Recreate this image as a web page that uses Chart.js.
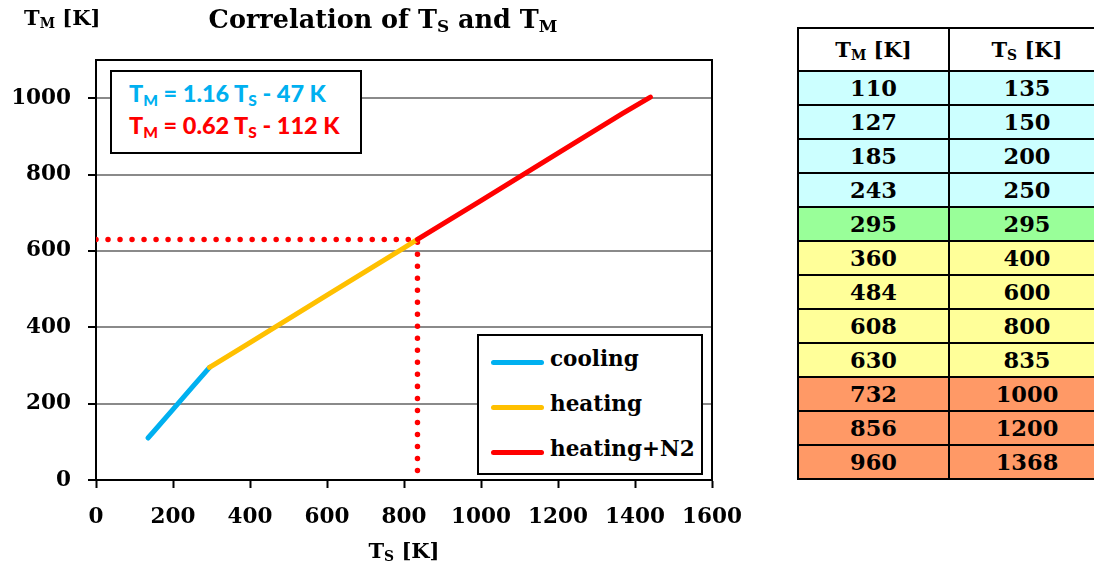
<!DOCTYPE html>
<html>
<head>
<meta charset="utf-8">
<script src="https://cdn.jsdelivr.net/npm/chart.js@4.4.1/dist/chart.umd.min.js"></script>
<style>
  html, body { margin:0; padding:0; width:1094px; height:572px; overflow:hidden; background:#fff; }
  body { position:relative; font-family:"DejaVu Serif", serif; font-weight:bold; color:#000; }
  #wrap { position:absolute; left:0; top:0; width:760px; height:572px; }
  .txt { position:absolute; white-space:nowrap; font-family:"DejaVu Serif", serif; font-weight:bold; }
  sub { font-size:66%; vertical-align:-0.25em; line-height:0; }
  #title { left:0; width:766px; top:4px; text-align:center; font-size:25.5px; }
  #ytitle { left:24px; top:5px; font-size:21px; }
  #xtitle { left:96px; width:616px; top:538px; text-align:center; font-size:21px; }
  #eq { position:absolute; left:110px; top:70px; width:248px; height:80px; border:2px solid #000; background:#fff;
        font-family:"Lato", "Open Sans", sans-serif; font-weight:900; font-size:23.5px; }
  #eq div { position:absolute; left:17px; white-space:nowrap; }
  #legend { position:absolute; left:477px; top:334px; width:222px; height:137px; border:2px solid #000; background:#fff; }
  .li { position:absolute; left:12px; height:24px; }
  .li span.ln { position:absolute; left:0; top:10px; width:53px; height:5px; border-radius:3px; }
  .li span.lt { position:absolute; left:59px; top:-4px; font-size:21.5px; white-space:nowrap; }
  #tbl { position:absolute; left:797px; top:27px; width:307px; border-collapse:collapse; table-layout:fixed; }
  #tbl td, #tbl th { border:2px solid #000; padding:0; text-align:center; font-size:22.5px; font-weight:bold; }
  #tbl th { height:41px; background:#fff; font-size:21px; }
  #tbl td { height:32px; line-height:30px; }
</style>
</head>
<body>
<div id="wrap"><canvas id="c" width="760" height="572"></canvas></div>
<div id="title" class="txt">Correlation of T<sub>S</sub> and T<sub>M</sub></div>
<div id="ytitle" class="txt">T<sub>M</sub> [K]</div>
<div id="xtitle" class="txt">T<sub>S</sub> [K]</div>
<div id="eq">
  <div style="top:7px;color:#00B0F0">T<sub>M</sub> = 1.16 T<sub>S</sub> - 47 K</div>
  <div style="top:39px;color:#FF0000">T<sub>M</sub> = 0.62 T<sub>S</sub> - 112 K</div>
</div>
<div id="legend"></div>
<table id="tbl"><colgroup><col style="width:151px"><col style="width:156px"></colgroup><tbody id="tb"></tbody></table>
<script>
// ---- data ----
const seriesNames = ["cooling", "heating", "heating+N2"];
const coolingTS = [135, 150, 200, 250, 295];
const coolingTM = [110, 127, 185, 243, 295];
const heatingTS = [295, 400, 600, 800, 835];
const heatingTM = [295, 360, 484, 608, 630];
const n2TS = [835, 1000, 1200, 1368, 1440];
const n2TM = [630, 732, 856, 960, 1003];
const guideTS = [0, 835, 835];
const guideTM = [630, 630, 0];
const tableTM = [110, 127, 185, 243, 295, 360, 484, 608, 630, 732, 856, 960];
const tableTS = [135, 150, 200, 250, 295, 400, 600, 800, 835, 1000, 1200, 1368];
const xTicks = [0, 200, 400, 600, 800, 1000, 1200, 1400, 1600];
const yTicks = [0, 200, 400, 600, 800, 1000];

const colors = ["#00B0F0", "#FFC000", "#FF0000"];
const pts = (xs, ys) => xs.map((x, i) => ({x: x, y: ys[i]}));

// ---- table ----
const tb = document.getElementById("tb");
let html = '<tr><th>T<sub>M</sub> [K]</th><th>T<sub>S</sub> [K]</th></tr>';
tableTS.forEach((ts, i) => {
  let bg = ts < 295 ? "#CCFFFF" : ts === 295 ? "#99FF99" : ts <= 835 ? "#FFFF99" : "#FF9966";
  html += `<tr style="background:${bg}"><td>${tableTM[i]}</td><td>${ts}</td></tr>`;
});
tb.innerHTML = html;

// ---- legend ----
const lg = document.getElementById("legend");
seriesNames.forEach((n, i) => {
  const d = document.createElement("div");
  d.className = "li";
  d.style.top = (14 + i * 45) + "px";
  d.innerHTML = `<span class="ln" style="background:${colors[i]}"></span><span class="lt">${n}</span>`;
  lg.appendChild(d);
});

// ---- chart ----
const framePlugin = {
  id: "frame",
  beforeDatasetsDraw(chart) {
    const a = chart.chartArea, ctx = chart.ctx;
    ctx.save();
    ctx.strokeStyle = "#000";
    ctx.lineWidth = 2;
    ctx.strokeRect(a.left, a.top, a.right - a.left, a.bottom - a.top);
    ctx.restore();
  }
};

const lineDs = (label, data, color, order) => ({
  label, data, borderColor: color, backgroundColor: color, borderWidth: 5,
  pointRadius: 0, borderCapStyle: "round", borderJoinStyle: "round", tension: 0, order
});

const tickFont = {family: "DejaVu Serif", weight: "bold", size: 21.5};

new Chart(document.getElementById("c"), {
  type: "line",
  data: {
    datasets: [
      lineDs(seriesNames[2], pts(n2TS, n2TM), colors[2], 0),
      lineDs(seriesNames[1], pts(heatingTS, heatingTM), colors[1], 1),
      lineDs(seriesNames[0], pts(coolingTS, coolingTM), colors[0], 2),
      Object.assign(lineDs("guide", pts(guideTS, guideTM), "#FF0000", 3),
        {borderWidth: 5.5, borderDash: [0.01, 12], borderCapStyle: "round"})
    ]
  },
  options: {
    responsive: false,
    animation: false,
    events: [],
    layout: {padding: {left: 0, right: 48, top: 60, bottom: 0}},
    plugins: {legend: {display: false}, tooltip: {enabled: false}, title: {display: false}},
    scales: {
      x: {
        type: "linear", min: xTicks[0], max: xTicks[xTicks.length - 1],
        afterBuildTicks: s => { s.ticks = xTicks.map(v => ({value: v})); },
        afterFit: s => { s.height = 92; },
        ticks: {color: "#000", font: tickFont, padding: 17, maxRotation: 0, autoSkip: false,
                callback: v => String(v)},
        grid: {drawOnChartArea: false, drawTicks: true, tickLength: 8, tickColor: "#000", tickWidth: 2},
        border: {color: "#000", width: 2}
      },
      y: {
        type: "linear", min: 0, max: 1100,
        afterBuildTicks: s => { s.ticks = yTicks.map(v => ({value: v})); },
        afterFit: s => { s.width = 96; },
        ticks: {color: "#000", font: tickFont, padding: 17, autoSkip: false, callback: v => String(v)},
        grid: {color: "#8A8A8A", lineWidth: 2, drawTicks: true, tickLength: 8, tickColor: "#000", tickWidth: 2},
        border: {color: "#000", width: 2}
      }
    }
  },
  plugins: [framePlugin]
});
</script>
</body>
</html>
